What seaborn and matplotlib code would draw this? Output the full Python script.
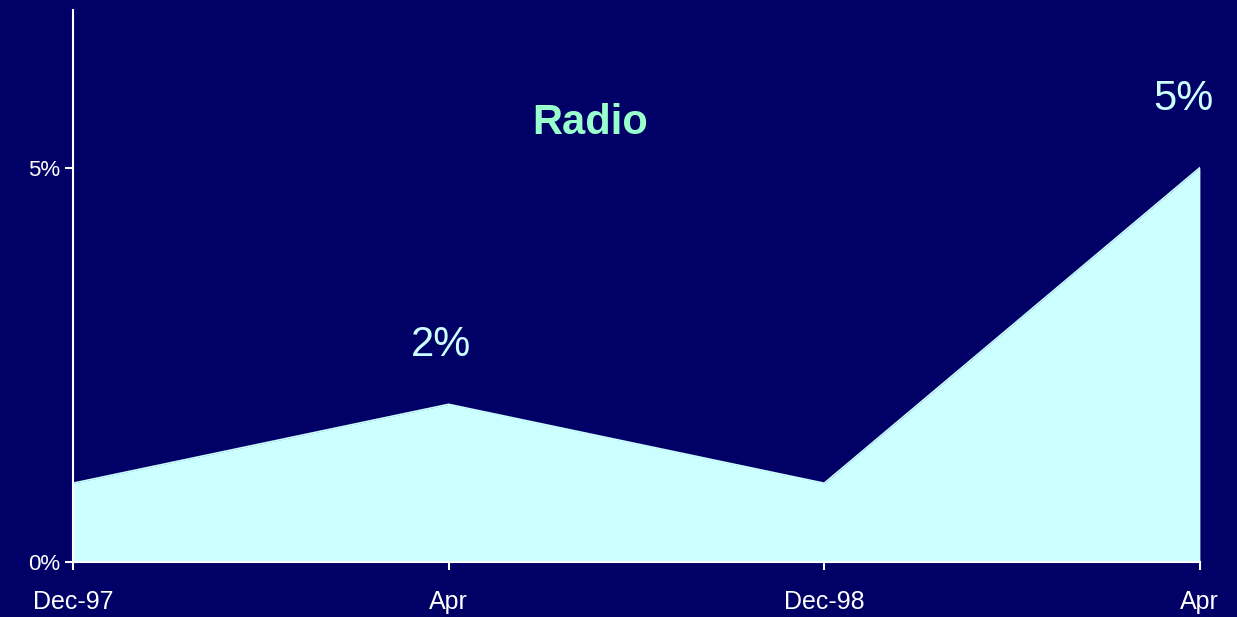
import pandas as pd
import matplotlib.pyplot as plt
import seaborn as sns

# Dados do grafico
periods = ["Dec-97", "Apr", "Dec-98", "Apr"]
share = [1, 2, 1, 5]
labeled_points = [(1, 2), (3, 5)]

bg = "#000066"
fill = "#CCFFFF"

sns.set_style("white")
plt.rcParams["font.family"] = ["Liberation Sans", "DejaVu Sans"]

df = pd.DataFrame({"pos": range(len(periods)), "share": share})

fig = plt.figure(figsize=(12.37, 6.17), dpi=100, facecolor=bg)
ax = fig.add_axes([0.059, 0.089, 0.911, 0.895])
ax.set_facecolor(bg)

sns.lineplot(data=df, x="pos", y="share", color=fill, linewidth=1.2, ax=ax)
ax.fill_between(df["pos"], 0, df["share"], color=fill, linewidth=0)

# Rotulos de valores
for i, v in labeled_points:
    dx = -0.02 if i == 1 else -0.045
    dy = 0.75 if i == 1 else 0.87
    ax.text(i + dx, v + dy, f"{v}%", color=fill, fontsize=30, ha="center", va="center")

ax.text(1.376, 5.57, "Radio", color="#99FFCC", fontsize=30, fontweight="bold",
        ha="center", va="center")

ax.set_xlim(0, 3)
ax.set_ylim(0, 7)
ax.set_xticks(range(len(periods)))
ax.set_xticklabels(periods)
ax.set_yticks([0, 5])
ax.set_yticklabels(["0%", "5%"])
ax.set_xlabel("")
ax.set_ylabel("")
ax.tick_params(colors="white", labelsize=16, length=6, width=1.5, direction="out",
               bottom=True, left=True)
ax.tick_params(axis="x", labelsize=18, pad=14)

for side in ["top", "right"]:
    ax.spines[side].set_visible(False)
for side in ["left", "bottom"]:
    ax.spines[side].set_color("white")
    ax.spines[side].set_linewidth(1.5)

plt.savefig("out.png", dpi=100, facecolor=bg)
plt.close()
